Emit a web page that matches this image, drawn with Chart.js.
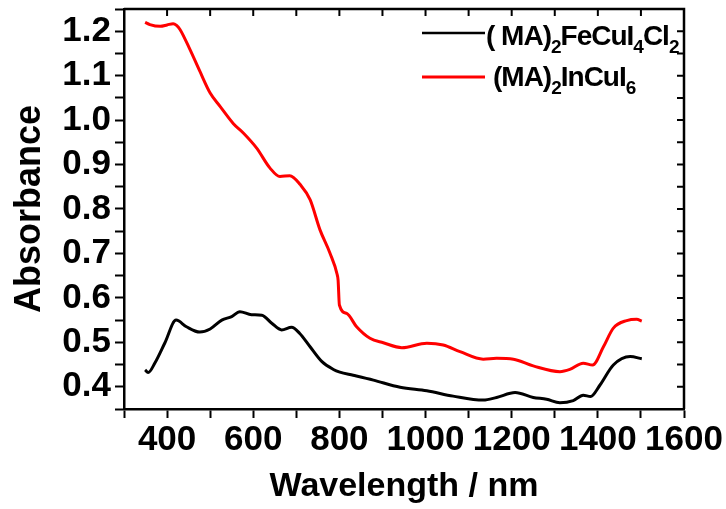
<!DOCTYPE html>
<html lang="en">
<head>
    <meta charset="UTF-8">
    <title>Absorbance</title>
    <script src="https://cdn.jsdelivr.net/npm/chart.js@4.4.0/dist/chart.umd.min.js"></script>
    <style>
        html, body { margin: 0; padding: 0; background: #fff; }
        #wrap { width: 726px; height: 509px; }
    </style>
</head>
<body>
<div id="wrap"><canvas id="chart1"></canvas></div>
<script>
const wlBlack = [349, 356, 372, 395, 421, 445, 476, 500, 527, 550, 569, 596, 620, 643, 666, 689, 708, 732, 759, 786,
    801, 832, 879, 941, 1003, 1064, 1134, 1165, 1208, 1250, 1281, 1312, 1343, 1366, 1383, 1405, 1436, 1475, 1502];
const absBlack = [0.438, 0.432, 0.454, 0.499, 0.550, 0.535, 0.523, 0.530, 0.550, 0.558, 0.569, 0.562, 0.561, 0.543, 0.528,
    0.534, 0.520, 0.490, 0.457, 0.439, 0.433, 0.426, 0.415, 0.399, 0.391, 0.379, 0.370, 0.376, 0.387, 0.376, 0.372,
    0.364, 0.369, 0.381, 0.378, 0.404, 0.449, 0.468, 0.463];

const wlRed = [349, 360, 384, 400, 414, 422, 430, 453, 476, 500, 523, 554, 577, 608, 639, 662, 685, 709, 732, 755, 778,
    795, 797, 800, 817, 840, 871, 902, 945, 1003, 1041, 1080, 1134, 1165, 1204, 1250, 1312, 1335, 1366, 1388, 1413,
    1436, 1467, 1490, 1502];
const absRed = [1.220, 1.215, 1.211, 1.214, 1.217, 1.213, 1.204, 1.159, 1.110, 1.061, 1.031, 0.992, 0.971, 0.937, 0.892,
    0.873, 0.875, 0.855, 0.821, 0.753, 0.701, 0.652, 0.640, 0.584, 0.565, 0.535, 0.509, 0.499, 0.488, 0.498, 0.494,
    0.479, 0.462, 0.464, 0.462, 0.447, 0.434, 0.439, 0.453, 0.449, 0.490, 0.532, 0.549, 0.552, 0.548];

// legend labels, split into [text, isSubscript]
const labelBlack = [["( MA)", false], ["2", true], ["FeCuI", false], ["4", true], ["Cl", false], ["2", true]];
const labelRed = [["(MA)", false], ["2", true], ["InCuI", false], ["6", true]];

const FONT = "'Liberation Sans', Arial, sans-serif";

// frame on top/right with inward ticks, plus the legend with subscripts
const framePlugin = {
    id: "frame",
    afterDraw(chart) {
        const ctx = chart.ctx;
        const a = chart.chartArea;
        const x = chart.scales.x, y = chart.scales.y;
        ctx.save();
        ctx.strokeStyle = "#000";
        ctx.lineWidth = 2.5;
        ctx.beginPath();
        ctx.moveTo(a.left, a.top);
        ctx.lineTo(a.right, a.top);
        ctx.lineTo(a.right, a.bottom);
        ctx.stroke();
        ctx.lineWidth = 2;
        ctx.beginPath();
        x.ticks.forEach(t => {
            const px = x.getPixelForValue(t.value);
            ctx.moveTo(px, a.top);
            ctx.lineTo(px, a.top + 7);
        });
        y.ticks.forEach(t => {
            const py = y.getPixelForValue(t.value);
            ctx.moveTo(a.right, py);
            ctx.lineTo(a.right - 7, py);
        });
        ctx.stroke();

        const drawEntry = (parts, color, lw, lineY, textX, baseY) => {
            ctx.strokeStyle = color;
            ctx.lineWidth = lw;
            ctx.beginPath();
            ctx.moveTo(a.right - 262, lineY);
            ctx.lineTo(a.right - 199, lineY);
            ctx.stroke();
            ctx.fillStyle = "#000";
            ctx.textBaseline = "alphabetic";
            ctx.letterSpacing = "-1px";
            let cx = textX;
            parts.forEach(([txt, sub]) => {
                ctx.font = "bold " + (sub ? 19 : 28) + "px " + FONT;
                ctx.fillText(txt, cx, sub ? baseY + 8 : baseY);
                cx += ctx.measureText(txt).width;
            });
        };
        drawEntry(labelBlack, "#000", 2.5, a.top + 24, a.right - 198, a.top + 36);
        drawEntry(labelRed, "#ff0000", 3, a.top + 68, a.right - 191, a.top + 77);
        ctx.restore();
    }
};

new Chart("chart1", {
    type: "line",
    data: {
        datasets: [{
            label: "(MA)2FeCuI4Cl2",
            data: wlBlack.map((w, i) => ({x: w, y: absBlack[i]})),
            borderColor: "#000",
            borderWidth: 3,
            pointRadius: 0,
            cubicInterpolationMode: "monotone"
        }, {
            label: "(MA)2InCuI6",
            data: wlRed.map((w, i) => ({x: w, y: absRed[i]})),
            borderColor: "#ff0000",
            borderWidth: 3,
            pointRadius: 0,
            cubicInterpolationMode: "monotone"
        }]
    },
    options: {
        responsive: true,
        maintainAspectRatio: false,
        animation: false,
        layout: { padding: { top: 9, right: 42, left: 0, bottom: 0 } },
        plugins: {
            legend: { display: false },
            tooltip: { enabled: false }
        },
        scales: {
            x: {
                type: "linear",
                min: 300,
                max: 1600,
                border: { display: true, color: "#000", width: 2.5 },
                grid: { drawOnChartArea: false, drawTicks: true, tickLength: 9, tickColor: "#000", tickWidth: 2 },
                ticks: {
                    stepSize: 100,
                    autoSkip: false,
                    maxRotation: 0,
                    padding: 1,
                    color: "#000",
                    font: { family: FONT, size: 35, weight: "bold" },
                    callback: v => (v % 200 === 0 ? String(v) : "")
                },
                title: {
                    display: true,
                    text: "Wavelength / nm",
                    color: "#000",
                    font: { family: FONT, size: 34, weight: "bold" },
                    padding: { top: 0, bottom: 2 }
                },
                afterFit: s => { s.height = 100; s.paddingLeft = 0; s.paddingRight = 0; }
            },
            y: {
                min: 0.35,
                max: 1.25,
                border: { display: true, color: "#000", width: 2.5 },
                grid: { drawOnChartArea: false, drawTicks: true, tickLength: 9, tickColor: "#000", tickWidth: 2 },
                ticks: {
                    stepSize: 0.05,
                    autoSkip: false,
                    padding: 4,
                    color: "#000",
                    font: { family: FONT, size: 35, weight: "bold" },
                    callback: v => (Math.round(v * 100) % 10 === 0 ? v.toFixed(1) : "")
                },
                title: {
                    display: true,
                    text: "Absorbance",
                    color: "#000",
                    font: { family: FONT, size: 36, weight: "bold" },
                    padding: { top: 8, bottom: 0 }
                },
                afterFit: s => { s.width = 124; s.paddingTop = 0; s.paddingBottom = 0; }
            }
        }
    },
    plugins: [framePlugin]
});
</script>
</body>
</html>
